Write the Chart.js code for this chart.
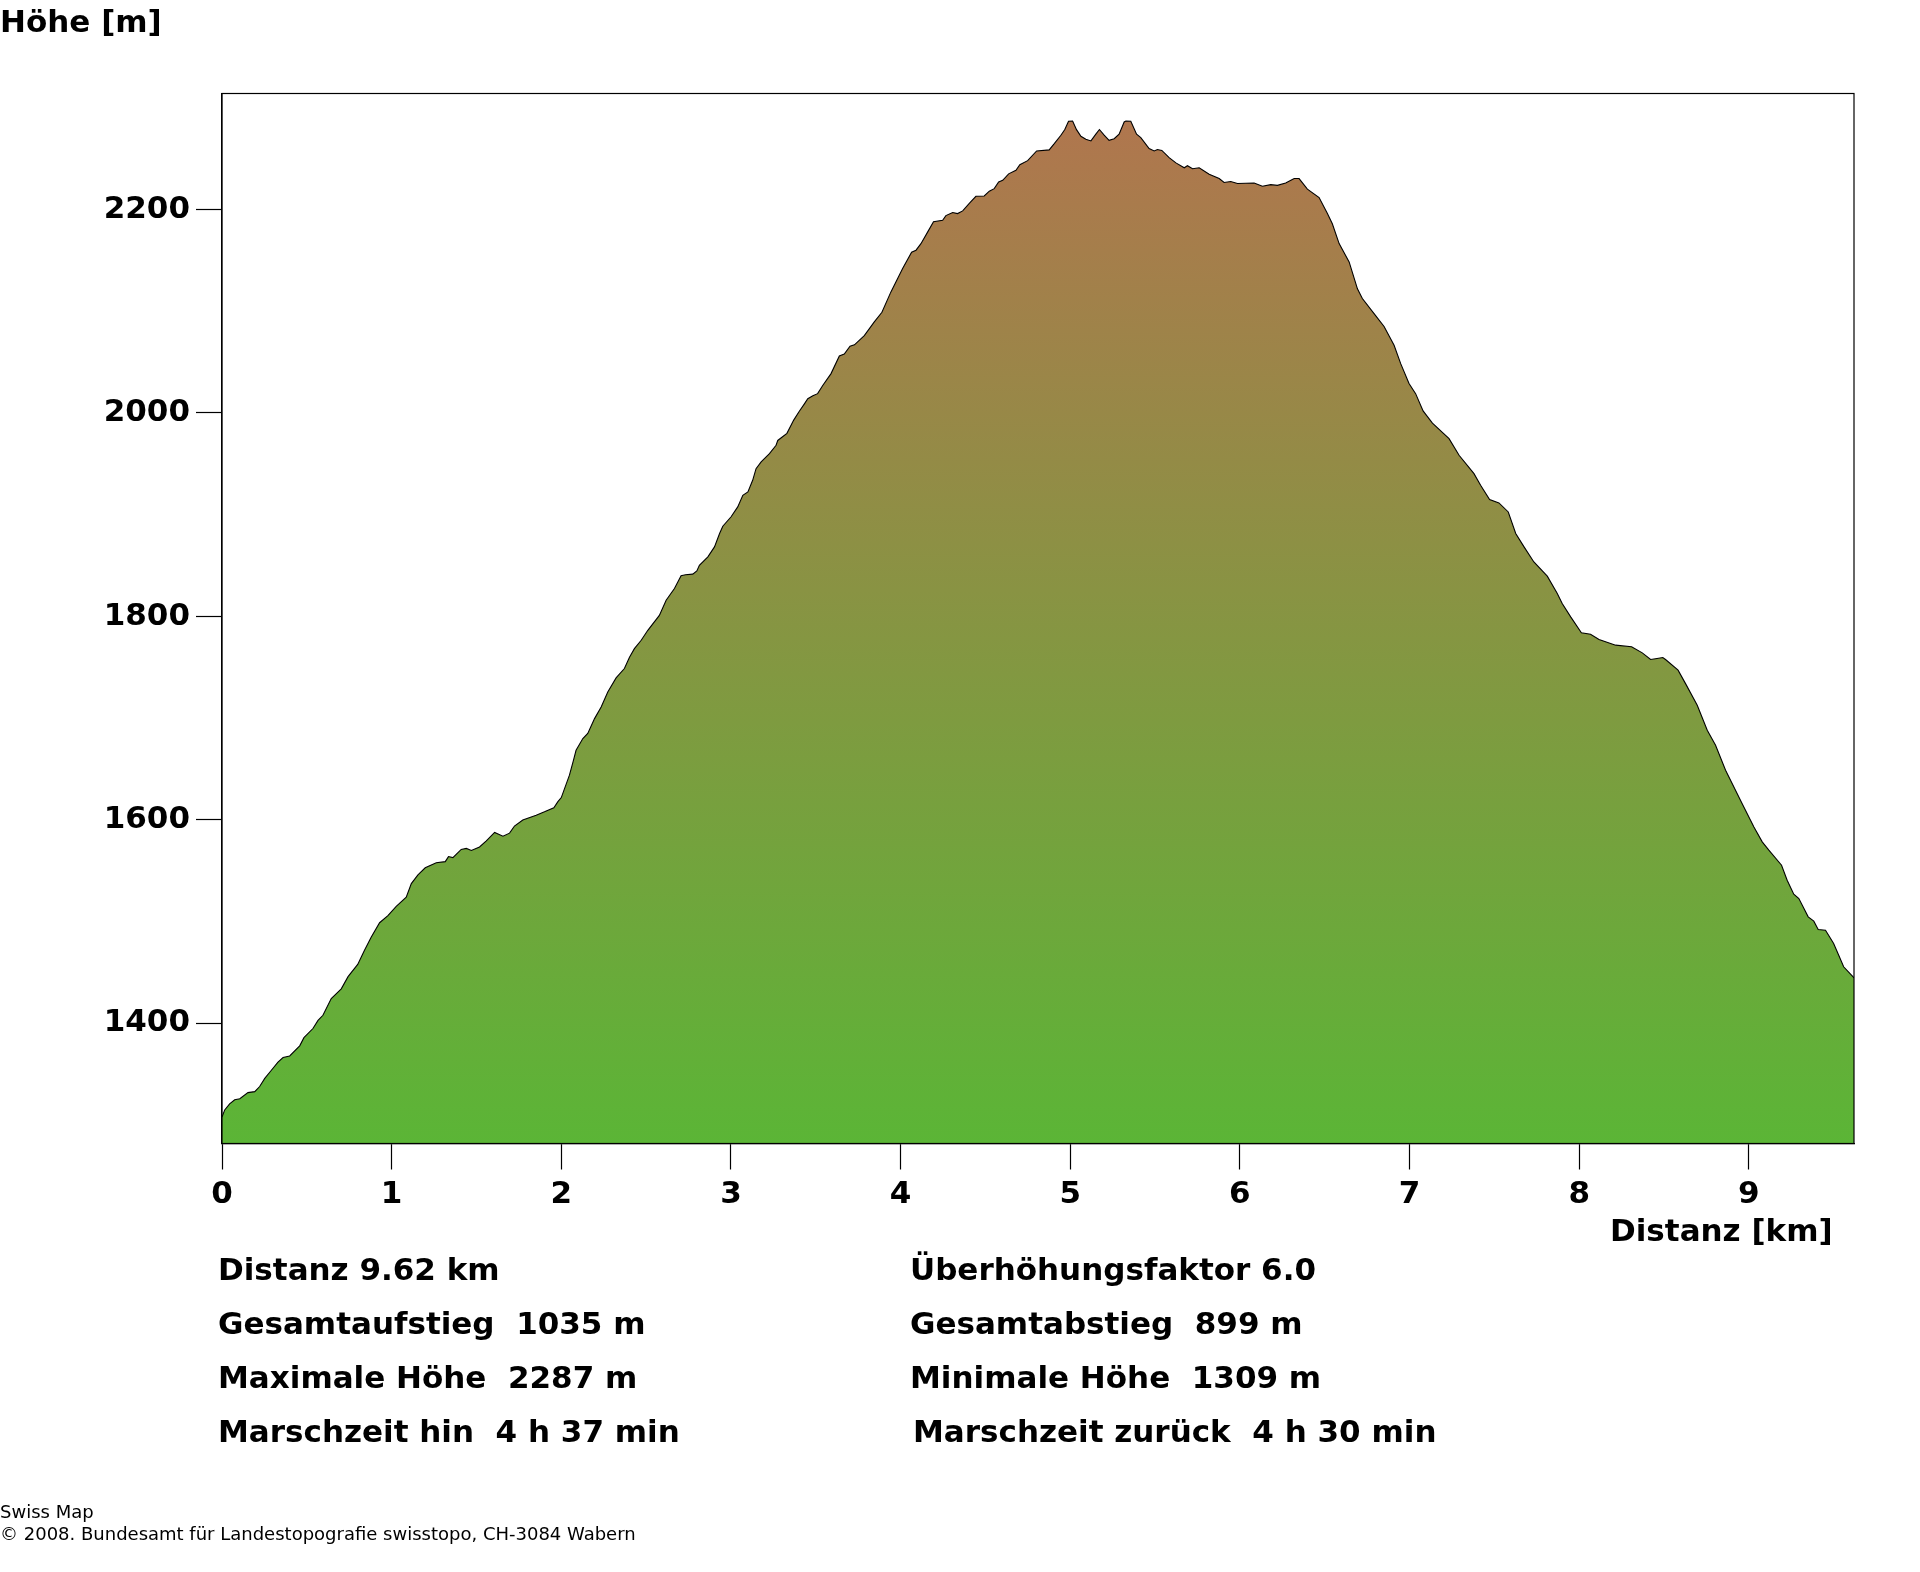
<!DOCTYPE html>
<html>
<head>
<meta charset="utf-8">
<title>Höhenprofil</title>
<script src="https://cdn.jsdelivr.net/npm/chart.js@4"></script>
<style>
    html, body { margin: 0; padding: 0; background: #fff; }
    canvas { display: block; }
</style>
</head>
<body>
<canvas id="profile" width="1920" height="1572"></canvas>
<script>
// Values
const distances = [
    0, 0.016, 0.045, 0.075, 0.105, 0.153, 0.193, 0.222, 0.252, 0.291, 0.33, 0.36, 0.399, 0.458, 0.483, 0.536, 0.566, 0.595,
    0.644, 0.703, 0.743, 0.8, 0.84, 0.88, 0.929, 0.978, 1.027, 1.086, 1.116, 1.155, 1.198, 1.263, 1.316, 1.335, 1.361, 1.41,
    1.44, 1.47, 1.518, 1.558, 1.607, 1.656, 1.695, 1.724, 1.773, 1.852, 1.901, 1.956, 1.98, 2.0, 2.048, 2.072, 2.087, 2.127,
    2.156, 2.196, 2.235, 2.274, 2.323, 2.372, 2.402, 2.431, 2.471, 2.51, 2.578, 2.618, 2.667, 2.706, 2.732, 2.775, 2.799,
    2.814, 2.864, 2.903, 2.933, 2.952, 3.001, 3.04, 3.07, 3.1, 3.128, 3.148, 3.178, 3.227, 3.266, 3.276, 3.33, 3.37, 3.403,
    3.433, 3.453, 3.483, 3.511, 3.541, 3.59, 3.639, 3.668, 3.702, 3.728, 3.786, 3.845, 3.89, 3.943, 4.012, 4.065, 4.091,
    4.12, 4.16, 4.194, 4.248, 4.267, 4.307, 4.336, 4.366, 4.405, 4.444, 4.493, 4.523, 4.552, 4.578, 4.602, 4.637, 4.68,
    4.703, 4.749, 4.802, 4.876, 4.906, 4.945, 4.968, 4.99, 5.014, 5.037, 5.063, 5.092, 5.122, 5.151, 5.172, 5.2, 5.229,
    5.259, 5.288, 5.318, 5.328, 5.357, 5.391, 5.416, 5.465, 5.495, 5.514, 5.54, 5.583, 5.623, 5.672, 5.691, 5.721, 5.76,
    5.819, 5.878, 5.907, 5.946, 5.986, 6.084, 6.133, 6.182, 6.221, 6.27, 6.32, 6.349, 6.398, 6.467, 6.516, 6.545, 6.585,
    6.644, 6.693, 6.722, 6.791, 6.85, 6.909, 6.948, 6.997, 7.036, 7.08, 7.135, 7.233, 7.292, 7.38, 7.419, 7.472, 7.527,
    7.582, 7.626, 7.675, 7.733, 7.812, 7.871, 7.9, 7.95, 8.013, 8.067, 8.117, 8.215, 8.309, 8.372, 8.421, 8.45, 8.493,
    8.509, 8.583, 8.627, 8.696, 8.755, 8.804, 8.863, 8.961, 9.03, 9.079, 9.118, 9.193, 9.226, 9.265, 9.295, 9.35, 9.383,
    9.409, 9.452, 9.5, 9.53, 9.559, 9.62
];
const elevations = [
    1308, 1315, 1321, 1325, 1326, 1332, 1333, 1338, 1346, 1354, 1362, 1366.5, 1368, 1378, 1386, 1395, 1403, 1408,
    1424.5, 1434, 1446, 1458, 1472, 1485, 1499, 1506, 1515, 1524, 1537.5, 1546, 1553, 1558, 1559, 1564, 1563, 1571,
    1572, 1570, 1573.5, 1579.5, 1587.7, 1584, 1587, 1594, 1600, 1604.7, 1608, 1612, 1618, 1622, 1644, 1658.7, 1668.5, 1680,
    1685, 1699.6, 1711, 1725.8, 1739.6, 1748.8, 1760, 1768.4, 1776.6, 1786.4, 1801, 1816, 1827.5, 1840, 1841, 1841.6, 1844.8,
    1850.3, 1858.6, 1868.4, 1881.5, 1888.7, 1898, 1907.7, 1919, 1922.4, 1933.8, 1945.3, 1951.9, 1960, 1968.3, 1973, 1980, 1993, 2001.7,
    2009, 2014, 2017, 2019, 2027, 2038.7, 2056, 2058, 2065.6, 2067, 2076, 2089.6, 2099, 2119, 2142, 2158, 2160,
    2166.4, 2178, 2188, 2189.4, 2194, 2197, 2196, 2198.6, 2206, 2213, 2213.3, 2218, 2220.5, 2227, 2228.7, 2235, 2238.6,
    2244, 2248, 2257.5, 2258.6, 2264.7, 2273, 2278.6, 2286.7, 2287, 2278.5, 2272, 2269, 2267.4, 2274, 2278.6, 2273, 2268,
    2269.5, 2274, 2286, 2287, 2286.7, 2274, 2270.6, 2259.9, 2257.6, 2259, 2258, 2251, 2245.8, 2241, 2243, 2240, 2241,
    2234.7, 2230.4, 2226.5, 2227.5, 2225.5, 2226, 2222.8, 2224.4, 2223.7, 2226, 2230.4, 2230.4, 2220, 2211.7, 2196, 2186, 2166.5,
    2148.5, 2122, 2112.5, 2097.7, 2085, 2066.6, 2048.5, 2029, 2019, 2002, 1990, 1974.8, 1958.4, 1940.4, 1929, 1915, 1911.6,
    1902.7, 1881.5, 1868.4, 1853.6, 1839.6, 1822.6, 1812.8, 1799.6, 1783.9, 1782.6, 1777.3, 1771.8, 1770.2, 1764.2, 1757.7, 1758.4, 1759.6,
    1757.7, 1747.2, 1734, 1712.8, 1688.2, 1673.5, 1648.9, 1616, 1593, 1578.5, 1570.3, 1555.5, 1540.8, 1527, 1522.8, 1504.8, 1500.5,
    1492.3, 1491.6, 1478.6, 1467, 1455.7, 1444.8
];
const xTicks = [0, 1, 2, 3, 4, 5, 6, 7, 8, 9];
const yTicks = [1400, 1600, 1800, 2000, 2200];

const infoLeft = ['Distanz 9.62 km', 'Gesamtaufstieg  1035 m', 'Maximale Höhe  2287 m', 'Marschzeit hin  4 h 37 min'];
const infoRight = ['Überhöhungsfaktor 6.0', 'Gesamtabstieg  899 m', 'Minimale Höhe  1309 m', 'Marschzeit zurück  4 h 30 min'];
const footer = ['Swiss Map', '© 2008. Bundesamt für Landestopografie swisstopo, CH-3084 Wabern'];

const BOLD = 'bold 31px "DejaVu Sans"';
const SMALL = '18px "DejaVu Sans"';

// Function to build the green to brown fill
function profileGradient(chart) {
    const area = chart.chartArea;
    if (!area) return '#5bb536';
    const g = chart.ctx.createLinearGradient(0, area.bottom, 0, 120);
    g.addColorStop(0, '#5bb536');
    g.addColorStop(1, '#b0764e');
    return g;
}

// Function to write a text with its baseline at y
function writeText(ctx, text, x, y, font) {
    ctx.font = font;
    ctx.fillStyle = '#000';
    ctx.textBaseline = 'alphabetic';
    ctx.textAlign = 'left';
    ctx.fillText(text, x, y);
}

// Frame around the plot and all the loose texts
const sheet = {
    id: 'sheet',
    afterDraw(chart) {
        const ctx = chart.ctx;
        const a = chart.chartArea;
        ctx.save();
        ctx.strokeStyle = '#000';
        ctx.lineWidth = 1.2;
        ctx.strokeRect(a.left, a.top, a.right - a.left, a.bottom - a.top);
        writeText(ctx, 'Höhe [m]', 0, 32, BOLD);
        writeText(ctx, 'Distanz [km]', 1610, 1241, BOLD);
        const rows = [1280, 1334, 1388, 1442];
        infoLeft.forEach((t, i) => writeText(ctx, t, 218, rows[i], BOLD));
        infoRight.forEach((t, i) => writeText(ctx, t, i === 3 ? 913 : 910, rows[i], BOLD));
        writeText(ctx, footer[0], 0, 1518, SMALL);
        writeText(ctx, footer[1], 0, 1540, SMALL);
        ctx.restore();
    }
};

new Chart(document.getElementById('profile').getContext('2d'), {
    type: 'line',
    data: {
        labels: distances,
        datasets: [{
            data: distances.map((d, i) => ({ x: d, y: elevations[i] })),
            borderColor: '#000',
            borderWidth: 1.1,
            backgroundColor: ctx => profileGradient(ctx.chart),
            fill: 'start',
            pointRadius: 0,
            tension: 0
        }]
    },
    options: {
        responsive: false,
        devicePixelRatio: 1,
        animation: false,
        layout: { padding: { left: 0, top: 93.5, right: 66, bottom: 0 } },
        plugins: { legend: { display: false }, tooltip: { enabled: false } },
        scales: {
            x: {
                type: 'linear',
                min: 0,
                max: 9.62,
                afterFit: s => { s.height = 428.5; },
                afterBuildTicks: s => { s.ticks = xTicks.map(v => ({ value: v })); },
                grid: { drawOnChartArea: false, tickLength: 26, tickColor: '#000', tickWidth: 1.2 },
                border: { color: '#000', width: 1.2 },
                ticks: { color: '#000', font: { family: 'DejaVu Sans', weight: 'bold', size: 31 }, padding: 7, maxRotation: 0, autoSkip: false, callback: v => String(v) }
            },
            y: {
                type: 'linear',
                min: 1282,
                max: 2314,
                afterFit: s => { s.width = 222; },
                afterBuildTicks: s => { s.ticks = yTicks.map(v => ({ value: v })); },
                grid: { drawOnChartArea: false, tickLength: 26, tickColor: '#000', tickWidth: 1.2 },
                border: { color: '#000', width: 1.2 },
                ticks: { color: '#000', font: { family: 'DejaVu Sans', weight: 'bold', size: 31 }, padding: 6, autoSkip: false, callback: v => String(v) }
            }
        }
    },
    plugins: [sheet]
});
</script>
</body>
</html>
